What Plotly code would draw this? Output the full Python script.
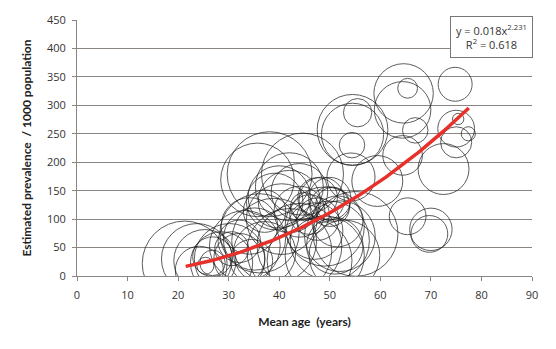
import numpy as np
import plotly.graph_objects as go

# Bubble data: mean age (years), estimated prevalence per 1000, relative sample size
mean_age = [
    74.8, 75.0, 75.0, 75.4, 77.4, 72.5, 65.4, 70.0, 69.7, 64.6,
    65.4, 64.4, 66.9, 64.4, 59.4, 54.5, 54.5, 55.5, 54.4, 54.2,
    21.3, 23.7, 25.3, 26.8, 25.4, 28.6, 24.2, 30.2, 26.8,
    33.2, 35.1, 34.1, 36.1, 39.0, 37.1, 32.1, 42.0, 44.0, 40.5,
    42.0, 44.0, 46.0, 45.0, 38.1, 35.7, 44.6, 42.0, 40.0, 44.0,
    47.6, 48.4, 50.0, 50.6, 50.0, 49.0, 50.0, 52.0, 55.1, 49.0,
    52.9, 46.0, 47.0, 51.0, 47.6, 51.5, 37.1, 39.1, 34.5, 30.6, 32.1,
]
prevalence = [
    337, 259, 235, 276, 250, 188, 105, 82, 74, 321,
    330, 292, 256, 212, 167, 257, 249, 287, 230, 174,
    22, 30, 27, 23, 18, 23, 10, 30, 34,
    53, 65, 88, 75, 62, 41, 30, 44, 53, 100,
    131, 113, 108, 122, 179, 169, 179, 157, 139, 148,
    138, 134, 136, 126, 122, 87, 62, 70, 74, 36,
    36, 27, 79, 53, 100, 96, 114, 131, 27, 48, 61,
]
sample_size = [
    1440, 1690, 1210, 160, 250, 3240, 1690, 2250, 1690, 4410,
    490, 4000, 810, 1960, 3240, 6250, 4840, 1000, 810, 2890,
    9000, 6250, 4840, 810, 360, 4840, 2890, 6250, 1960,
    6250, 4840, 4000, 7840, 9000, 4840, 3240, 9000, 9000, 6250,
    4840, 3240, 1960, 1000, 9000, 6760, 8410, 5760, 4840, 4000,
    1960, 2560, 2250, 1440, 1960, 7840, 7840, 6250, 9000, 7840,
    6250, 9000, 4000, 4000, 2250, 3240, 2250, 4000, 2250, 1440, 2250,
]

# Power trendline shown on chart: y = a * x^b
trend_a = 0.018
trend_b = 2.231
r_squared = 0.618
trend_x_range = [21.5, 77.5]

x_ticks = [0, 10, 20, 30, 40, 50, 60, 70, 80, 90]
y_ticks = [0, 50, 100, 150, 200, 250, 300, 350, 400, 450]

tx = np.linspace(trend_x_range[0], trend_x_range[1], 120)
ty = trend_a * tx ** trend_b

fig = go.Figure()
fig.add_trace(go.Scatter(
    x=mean_age, y=prevalence, mode="markers",
    marker=dict(size=sample_size, sizemode="area", sizeref=2.5,
                color="rgba(0,0,0,0)", line=dict(color="#1a1a1a", width=1)),
    showlegend=False, hoverinfo="x+y",
))
fig.add_trace(go.Scatter(
    x=tx, y=ty, mode="lines",
    line=dict(color="#e8302a", width=3.5),
    showlegend=False,
))

gridc = "#8a8580"
title_font = dict(family="Lato, sans-serif", size=12, color="#222222")
fig.update_layout(
    width=556, height=349,
    margin=dict(l=77, r=24, t=16, b=73),
    paper_bgcolor="white", plot_bgcolor="white",
    font=dict(family="'Open Sans', sans-serif", size=11, color="#333333"),
    xaxis=dict(range=[0, 90], tickvals=x_ticks, showgrid=False, zeroline=False,
               showline=True, linecolor=gridc, linewidth=1,
               ticks="outside", ticklen=4, tickcolor=gridc, ticklabelstandoff=5,
               title=dict(text="<b>Mean age  (years)</b>", standoff=16,
                          font=title_font)),
    yaxis=dict(range=[0, 450], tickvals=y_ticks, showgrid=True, gridcolor=gridc,
               gridwidth=1, zeroline=False, showline=True, linecolor=gridc,
               linewidth=1, ticks="outside", ticklen=4, tickcolor=gridc,
               ticklabelstandoff=4,
               title=dict(text="<b>Estimated prevalence  / 1000 population</b>",
                          standoff=12, font=title_font)),
    annotations=[dict(
        x=1.002, y=1.014, xref="paper", yref="paper", xanchor="right", yanchor="top",
        text=f"y = {trend_a}x<sup>{trend_b}</sup><br>R<sup>2</sup> = {r_squared}",
        showarrow=False, align="center", bordercolor="#777", borderwidth=1,
        bgcolor="white", borderpad=5, font=dict(size=11, color="#333"),
    )],
)

fig.write_html("out.html")
